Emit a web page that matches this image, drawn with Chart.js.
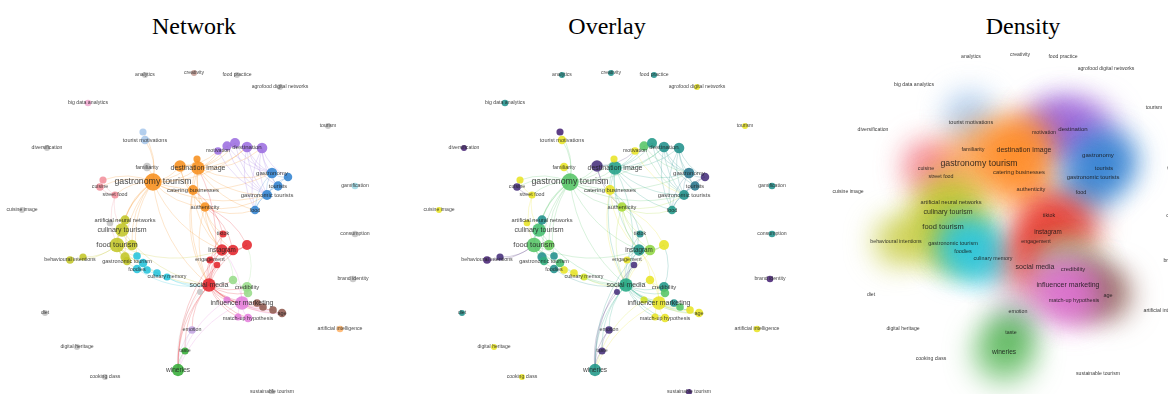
<!DOCTYPE html>
<html><head><meta charset="utf-8">
<script src="https://cdn.jsdelivr.net/npm/chart.js@4.4.1/dist/chart.umd.min.js"></script>
<style>
html,body{margin:0;padding:0;background:#fff;width:1168px;height:394px;overflow:hidden}
canvas{position:absolute;left:0;top:0}
.ttl{position:absolute;top:14px;line-height:24px;font-family:"Liberation Serif","Times New Roman",serif;font-size:24px;color:#000;transform:translateX(-50%);white-space:nowrap}
</style></head><body>
<div class="ttl" id="t1" style="left:194px"></div>
<div class="ttl" id="t2" style="left:607px"></div>
<div class="ttl" id="t3" style="left:1023px"></div>
<canvas id="c1" width="1168" height="394"></canvas>
<canvas id="c2" width="1168" height="394"></canvas>
<canvas id="c3" width="1168" height="394"></canvas>
<script>
// ---------------- DATA ----------------
const panelTitles = ["Network", "Overlay", "Density"];
const terms = [
 "gastronomy tourism","destination image","","","catering businesses","authenticity","familiarity","","tourist motivations","motivation",
 "","","destination","","gastronomy","","tourists","gastronomic tourists","food","cuisine",
 "","street food","culinary tourism","artificial neural networks","food tourism","","","gastronomic tourism","","behavioural intentions",
 "","","","foodies","","","culinary memory","tiktok","instagram","",
 "","engagement","","social media","","","credibility","","influencer marketing","",
 "match-up hypothesis","","","","","age","emotion","taste","wineries","analytics",
 "creativity","food practice","agrofood digital networks","big data analytics","tourism","diversification","cuisine image","gamification","consumption","brand identity",
 "artificial intelligence","diet","digital heritage","cooking class","sustainable tourism"
];
const mapX = [
 153,198,180,197,193,205,147,143,145,218,
 227,235,247,262,272,288,278,267,255,100,
 103,115,122,125,117,132,125,127,110,70,
 83,137,143,137,147,157,167,223,222,233,
 247,210,217,209,200,233,247,248,242,227,
 248,238,257,263,273,282,192,185,178,145,
 194,237,280,88,328,47,22,355,355,353,
 340,45,77,105,272
];
const mapY = [
 182,168,166,159,190,207,167,132,140,151,
 146,143,147,148,173,177,186,195,210,187,
 180,195,230,220,245,245,257,261,223,260,
 257,256,263,269,270,273,277,234,250,250,
 245,260,265,285,292,280,287,293,303,300,
 318,317,303,307,310,313,330,351,370,75,
 73,75,87,103,126,148,210,186,234,279,
 329,313,347,377,392
];
const occurrences = [
 44,25,17,5,12,10,8,5,8,6,
 10,12,14,14,14,8,10,12,8,6,
 5,5,25,10,30,14,10,8,4,6,
 5,6,8,8,6,6,5,5,17,14,
 12,5,4,25,3,8,12,8,25,5,
 8,5,6,6,6,8,6,5,20,3,
 3,3,3,4,3,3,3,4,4,4,
 4,3,3,3,3
];
// cluster ids: 1 red,2 green,3 blue,4 olive,5 purple,6 cyan,7 orange,8 brown,9 pink,10 light blue,
// 11 light red,12 light green,13 light purple,14 grey,15 light pink,16 light orange,17 light brown,18 light cyan
const cluster = [
 7,7,7,7,7,7,14,10,10,5,
 5,5,5,5,3,3,3,3,3,11,
 11,11,4,4,4,4,4,4,14,4,
 4,6,6,6,6,6,6,1,1,1,
 1,1,1,1,14,12,12,12,9,9,
 9,9,8,8,8,8,13,2,2,14,
 17,14,14,15,14,14,14,18,14,14,
 16,14,14,14,14
];
const avgYear = [
 2022.2,2021.7,2020.4,2022.9,2022.9,2022.6,2022.9,2020.3,2022.9,2022.9,
 2022.2,2021.6,2021.5,2021.5,2021.2,2020.4,2021.2,2021.5,2021.6,2020.4,
 2022.9,2022.9,2022.1,2021.5,2022.2,2022.3,2021.5,2021.9,2022.9,2020.3,
 2020.4,2021.5,2022.1,2021.5,2022.9,2022.9,2022.8,2021.5,2021.6,2022.5,
 2022.9,2022.9,2020.4,2021.8,2020.4,2022.9,2021.6,2022.2,2022.9,2022.8,
 2022.9,2022.9,2021.5,2022.2,2022.9,2022.9,2020.4,2020.4,2021.6,2021.5,
 2021.5,2021.5,2022.9,2021.5,2022.9,2020.3,2022.9,2021.5,2021.5,2020.3,
 2022.9,2021.5,2022.9,2022.9,2020.3
];
const links = [
 [0,1],[0,2],[0,3],[0,4],[0,5],[0,6],[0,7],[0,8],[0,19],[0,20],[0,21],[0,22],[0,23],[0,24],[0,25],[0,43],[0,38],[0,12],[0,17],[0,31],[0,26],[0,14],
 [1,2],[1,3],[1,4],[1,5],[1,9],[1,10],[1,11],[1,12],[1,13],[1,14],[1,17],[1,18],[1,38],[1,43],
 [2,4],[2,5],[2,9],[4,5],[4,38],[4,43],[5,37],[5,38],[5,39],[5,43],[5,18],[5,17],
 [9,10],[10,11],[11,12],[12,13],[10,14],[11,14],[12,14],[12,16],[12,17],[13,14],[13,15],[13,16],[13,17],[12,18],[11,17],[13,18],[10,17],[9,17],
 [14,15],[14,16],[14,17],[15,16],[15,17],[16,17],[16,18],[17,18],[14,18],
 [19,20],[19,21],[20,21],[21,22],[21,24],
 [22,24],[22,23],[24,25],[24,26],[24,27],[22,25],[23,24],[29,24],[30,24],[29,30],[24,31],[24,32],[24,33],[24,43],[24,38],[22,43],[23,28],
 [31,32],[32,33],[33,34],[34,35],[35,36],[36,43],[33,43],[32,43],
 [37,38],[38,39],[38,40],[39,40],[38,41],[41,43],[42,43],[38,43],[39,43],[40,43],[37,43],[43,1],[39,5],[40,5],[37,4],
 [43,44],[43,45],[43,46],[43,47],[43,48],[43,49],[43,50],[43,51],[43,52],[43,53],[43,54],[43,55],[43,56],[43,57],[43,58],
 [48,49],[48,50],[48,51],[48,52],[48,53],[48,54],[48,55],[48,46],[48,45],[48,47],[50,51],[48,38],
 [52,53],[53,54],[54,55],
 [57,58],[56,58],[56,57],[44,58],[42,58],[38,58],[49,58],[48,58],
 [45,46],[46,47],[45,47],[46,40],[45,38]
];
const yearRange = [2020, 2023];

// ---------------- STYLE ----------------
const CLUSTER_COLORS = {1:'#e4262c',2:'#36ad38',3:'#3283d0',4:'#c3c628',5:'#9c6ee0',6:'#26c4dc',7:'#f7901e',8:'#8f5a50',
 9:'#e47fdc',10:'#a8c8ec',11:'#f2909c',12:'#98dc8a',13:'#c2a5e0',14:'#c4c4c4',15:'#f0a8d0',16:'#ffb46a',17:'#c49c94',18:'#9edae5'};
const DENSITY_COLORS = {1:'#e8362e',2:'#34a834',3:'#2f7fd0',4:'#c0c52a',5:'#9a5fd8',6:'#2cc6df',7:'#ff8a22',8:'#8a5a50',
 9:'#e070d4',10:'#9ec2ea',11:'#f27a88',12:'#9ed88c',13:'#c2a5e0'};
const DENSITY_ORDER = [10,11,5,7,3,4,6,1,12,13,8,9,2];
const VIRIDIS = ['#440154','#482475','#414487','#355f8d','#2a788e','#21918c','#22a884','#44bf70','#7ad151','#bddf26','#fde725'];
const PANELS = [
 {canvas:'c1', title:'t1', mode:'network', xOff:0, yOff:0},
 {canvas:'c2', title:'t2', mode:'overlay', xOff:417, yOff:0},
 {canvas:'c3', title:'t3', mode:'density', xOff:826, yOff:-18}
];
const LABEL_FONT = '"Liberation Sans", Arial, sans-serif';

function hexToRgb(h){h=h.replace('#','');return [parseInt(h.substr(0,2),16),parseInt(h.substr(2,2),16),parseInt(h.substr(4,2),16)];}
function rgba(h,a){const c=hexToRgb(h);return `rgba(${c[0]},${c[1]},${c[2]},${a})`;}
function viridis(t){
  t=Math.max(0,Math.min(1,t));const p=t*(VIRIDIS.length-1);const i=Math.floor(p);const f=p-i;
  const a=hexToRgb(VIRIDIS[i]);const b=hexToRgb(VIRIDIS[Math.min(i+1,VIRIDIS.length-1)]);
  const c=a.map((v,k)=>Math.round(v+(b[k]-v)*f));
  return '#'+c.map(v=>v.toString(16).padStart(2,'0')).join('');
}
function nodeColor(i,mode){
  if(mode==='overlay') return viridis((avgYear[i]-yearRange[0])/(yearRange[1]-yearRange[0]));
  return CLUSTER_COLORS[cluster[i]];
}
const radiusOf = w => 1 + 1.15*Math.sqrt(w);
const fontOf = w => 4.8 + 0.09*w;

const mapPlugin = {
  id:'vosmap',
  beforeDatasetsDraw(chart){
    const mode=chart.options.plugins.vosmap.mode;
    const xs=chart.scales.x, ys=chart.scales.y, ctx=chart.ctx, area=chart.chartArea;
    ctx.save();
    ctx.beginPath();ctx.rect(area.left,area.top,area.right-area.left,area.bottom-area.top);ctx.clip();
    if(mode==='density'){
      ctx.filter='blur(15px)';
      DENSITY_ORDER.forEach(cl=>{
        for(let i=0;i<terms.length;i++){
          if(cluster[i]!==cl) continue;
          const px=xs.getPixelForValue(mapX[i]), py=ys.getPixelForValue(mapY[i]);
          ctx.globalAlpha=0.64;
          ctx.fillStyle=DENSITY_COLORS[cl];
          ctx.beginPath();ctx.arc(px,py,12+4*Math.sqrt(occurrences[i]),0,Math.PI*2);ctx.fill();
        }
      });
      ctx.filter='none';
    } else {
      ctx.lineWidth=0.7;
      links.forEach(([a,b])=>{
        const x1=xs.getPixelForValue(mapX[a]), y1=ys.getPixelForValue(mapY[a]);
        const x2=xs.getPixelForValue(mapX[b]), y2=ys.getPixelForValue(mapY[b]);
        const mx=(x1+x2)/2, my=(y1+y2)/2, dx=x2-x1, dy=y2-y1;
        ctx.strokeStyle=rgba(nodeColor(a,mode),0.32);
        ctx.beginPath();ctx.moveTo(x1,y1);ctx.quadraticCurveTo(mx-dy*0.2,my+dx*0.2,x2,y2);ctx.stroke();
      });
    }
    ctx.restore();
  },
  afterDatasetsDraw(chart){
    const xs=chart.scales.x, ys=chart.scales.y, ctx=chart.ctx;
    ctx.save();
    ctx.textAlign='center';ctx.textBaseline='middle';
    for(let i=0;i<terms.length;i++){
      if(!terms[i]) continue;
      ctx.font=`${fontOf(occurrences[i]).toFixed(1)}px ${LABEL_FONT}`;
      ctx.fillStyle=chart.options.plugins.vosmap.mode==='density'?'rgba(20,20,20,0.85)':'rgba(30,30,30,0.85)';
      ctx.fillText(terms[i],xs.getPixelForValue(mapX[i]),ys.getPixelForValue(mapY[i]));
    }
    ctx.restore();
  }
};

PANELS.forEach((p,k)=>{
  document.getElementById(p.title).textContent=panelTitles[k];
  const pts=terms.map((t,i)=>({x:mapX[i],y:mapY[i],r:radiusOf(occurrences[i])}));
  const colors=terms.map((t,i)=>p.mode==='density'?'rgba(0,0,0,0)':rgba(nodeColor(i,p.mode),0.88));
  new Chart(document.getElementById(p.canvas),{
    type:'bubble',
    data:{datasets:[{data:pts,backgroundColor:colors,borderWidth:0,hoverRadius:0}]},
    options:{
      responsive:false,animation:false,events:[],
      layout:{padding:0,autoPadding:false},
      scales:{
        x:{type:'linear',display:false,min:-p.xOff,max:1168-p.xOff},
        y:{type:'linear',display:false,reverse:true,min:-p.yOff,max:394-p.yOff}
      },
      plugins:{legend:{display:false},tooltip:{enabled:false},title:{display:false},vosmap:{mode:p.mode}}
    },
    plugins:[mapPlugin]
  });
});
</script>
</body></html>
